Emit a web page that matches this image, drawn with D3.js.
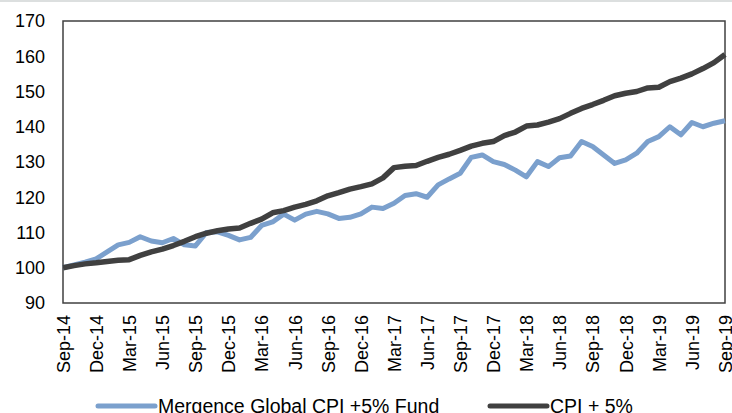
<!DOCTYPE html>
<html>
<head>
<meta charset="utf-8">
<script src="https://cdn.jsdelivr.net/npm/d3@7"></script>
<style>
  body { margin: 0; background: #fff; }
  text { font-family: "Liberation Sans", Arial, sans-serif; fill: #000; }
</style>
</head>
<body>
<script>

// monthly index, Sep-14 .. Sep-19 (61 months)
var tickLabels = ["Sep-14", "Dec-14", "Mar-15", "Jun-15", "Sep-15", "Dec-15", "Mar-16", "Jun-16",
  "Sep-16", "Dec-16", "Mar-17", "Jun-17", "Sep-17", "Dec-17", "Mar-18", "Jun-18",
  "Sep-18", "Dec-18", "Mar-19", "Jun-19", "Sep-19"];

var fund = [100.0, 100.8, 101.6, 102.5, 104.5, 106.5, 107.2, 108.8, 107.6, 107.1,
  108.3, 106.5, 106.2, 110.0, 110.2, 109.2, 107.9, 108.6, 112.0, 113.0,
  115.2, 113.5, 115.2, 116.0, 115.3, 114.0, 114.3, 115.3, 117.2, 116.8,
  118.3, 120.5, 121.0, 120.0, 123.5, 125.2, 126.8, 131.3, 132.0, 130.1,
  129.3, 127.7, 125.8, 130.1, 128.7, 131.2, 131.7, 135.8, 134.4, 132.0,
  129.6, 130.6, 132.5, 135.8, 137.2, 140.0, 137.7, 141.2, 140.0, 141.0,
  141.7];

var cpi = [100.0, 100.6, 101.1, 101.4, 101.8, 102.1, 102.3, 103.5, 104.5, 105.3,
  106.3, 107.5, 108.8, 109.8, 110.5, 111.0, 111.3, 112.6, 113.8, 115.6,
  116.2, 117.2, 118.0, 119.0, 120.4, 121.3, 122.3, 123.0, 123.8, 125.5,
  128.4, 128.8, 129.0, 130.2, 131.3, 132.2, 133.3, 134.5, 135.3, 135.8,
  137.5, 138.5, 140.2, 140.5, 141.3, 142.3, 143.8, 145.2, 146.3, 147.5,
  148.8, 149.5, 150.0, 151.0, 151.2, 152.8, 153.8, 155.0, 156.5, 158.2,
  160.5];

var yTicks = [90, 100, 110, 120, 130, 140, 150, 160, 170];

var seriesNames = ["Mergence Global CPI +5% Fund", "CPI + 5%"];
var colors = ["#7ba0cd", "#404040"];

var width = 732, height = 413;
var margin = { top: 21, right: 7, bottom: 110, left: 63 };

var svg = d3.select("body")
  .append("svg")
  .attr("width", width)
  .attr("height", height);

// thin grey strip at very top
svg.append("rect")
  .attr("x", 0).attr("y", 0)
  .attr("width", width).attr("height", 2)
  .attr("fill", "#dcdfdf");

var xScale = d3.scaleLinear()
  .domain([0, 60])
  .range([margin.left, width - margin.right]);

var yScale = d3.scaleLinear()
  .domain([90, 170])
  .range([height - margin.bottom, margin.top]);

// plot box
svg.append("rect")
  .attr("x", xScale(0))
  .attr("y", yScale(170))
  .attr("width", xScale(60) - xScale(0))
  .attr("height", yScale(90) - yScale(170))
  .attr("fill", "none")
  .attr("stroke", "#404040")
  .attr("stroke-width", 1.5);

var yAxis = svg.append("g")
  .attr("transform", `translate(${margin.left},0)`)
  .call(d3.axisLeft(yScale).tickValues(yTicks).tickSize(0).tickPadding(18));
yAxis.select(".domain").remove();
yAxis.selectAll("text")
  .style("font-size", "18px")
  .style("font-family", "Liberation Sans, Arial, sans-serif");

var xAxis = svg.append("g")
  .attr("transform", `translate(0, ${height - margin.bottom})`)
  .call(d3.axisBottom(xScale)
    .tickValues(d3.range(0, 61, 3))
    .tickFormat(function(d, i) { return tickLabels[i]; })
    .tickSize(0));
xAxis.select(".domain").remove();
xAxis.selectAll("text")
  .style("font-size", "18px")
  .style("font-family", "Liberation Sans, Arial, sans-serif")
  .attr("text-anchor", "end")
  .attr("transform", "rotate(-90)")
  .attr("x", -12)
  .attr("y", 0)
  .attr("dy", "0.35em");

var line = d3.line()
  .x(function(d, i) { return xScale(i); })
  .y(function(d) { return yScale(d); });

[fund, cpi].forEach(function(s, k) {
  svg.append("path")
    .datum(s)
    .attr("d", line)
    .attr("fill", "none")
    .attr("stroke", colors[k])
    .attr("stroke-width", k == 0 ? 5 : 5.5)
    .attr("stroke-linejoin", "round");
});

// legend
var legendX = [98, 490];
seriesNames.forEach(function(name, k) {
  var g = svg.append("g").attr("transform", `translate(${legendX[k]}, 406)`);
  g.append("line")
    .attr("x1", 0).attr("x2", 57)
    .attr("y1", 0).attr("y2", 0)
    .attr("stroke", colors[k])
    .attr("stroke-width", 5)
    .attr("stroke-linecap", "round");
  g.append("text")
    .attr("x", 60)
    .attr("y", 7)
    .style("font-size", "19.5px")
    .text(name);
});

</script>
</body>
</html>
